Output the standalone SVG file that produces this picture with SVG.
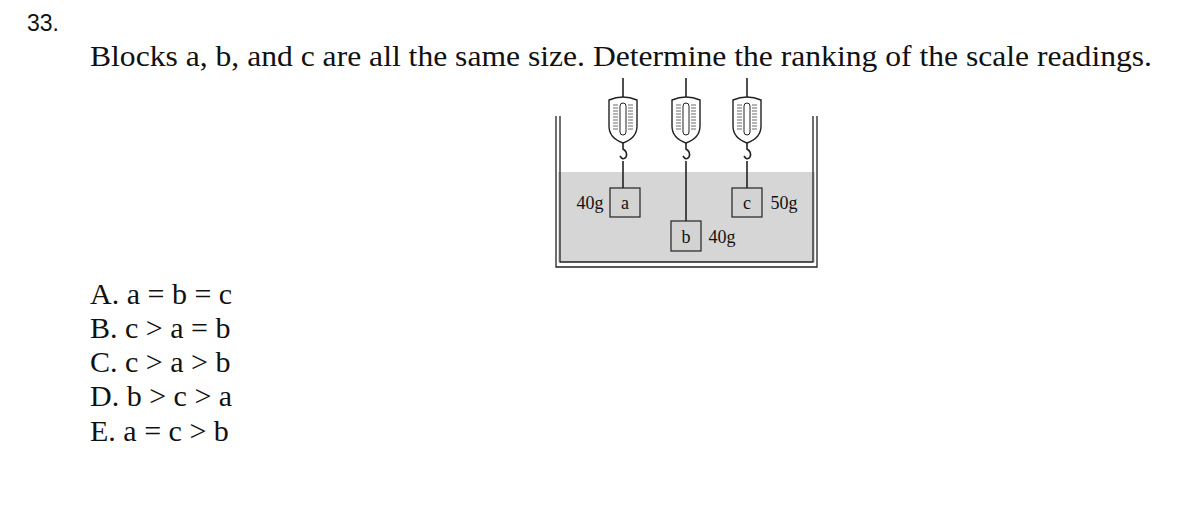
<svg xmlns="http://www.w3.org/2000/svg" width="1193" height="527" viewBox="0 0 1193 527">
<style>
.s{font-family:"Liberation Serif",serif;fill:#111}
.q{font-size:29px}
.o{font-size:30px}
.l{font-size:18px}
.ln{stroke:#222;fill:none;stroke-width:1.6}
.blk{fill:#d3d3d3;stroke:#222;stroke-width:1.2}
.body{fill:#fff;stroke:#222;stroke-width:1.4}
</style>
<defs>
<g id="scale">
<line class="ln" x1="0" y1="0" x2="0" y2="21" stroke-width="2"/>
<path class="body" d="M-14,22 Q0,16 14,22 V48 Q14,60 0,65 Q-14,60 -14,48 Z"/>
<rect x="-3" y="25" width="6" height="32" rx="3" fill="#fff" stroke="#222" stroke-width="1"/>
<path d="M-10,27 H-5 M-10,30 H-5 M-10,33 H-5 M-10,36 H-5 M-10,39 H-5 M-10,42 H-5 M-10,45 H-5 M-10,48 H-5 M-10,51 H-5 M5,27 H10 M5,30 H10 M5,33 H10 M5,36 H10 M5,39 H10 M5,42 H10 M5,45 H10 M5,48 H10 M5,51 H10" stroke="#444" stroke-width="0.8"/>
<path class="ln" d="M0,65 V71 Q5,74 3,79 Q0,83 -3,78"/>
</g>
</defs>
<text x="27" y="31" font-family="Liberation Sans, sans-serif" font-size="23" fill="#111">33.</text>
<text class="s q" x="90" y="66" textLength="1062" lengthAdjust="spacingAndGlyphs">Blocks a, b, and c are all the same size. Determine the ranking of the scale readings.</text>
<g id="container">
<rect x="558" y="172" width="257" height="90" fill="#d6d6d6"/>
<path d="M556,116 V267 H817 V116 M560,116 V262 H813 V116" fill="none" stroke="#222" stroke-width="1.3"/>
</g>
<g id="scale-a"><use href="#scale" x="623" y="78"/></g>
<g id="scale-b"><use href="#scale" x="686" y="78"/></g>
<g id="scale-c"><use href="#scale" x="747" y="78"/></g>
<g id="connectors">
<line class="ln" x1="623" y1="161" x2="623" y2="188" stroke-width="2"/>
<line class="ln" x1="686" y1="161" x2="686" y2="221" stroke-width="2"/>
<line class="ln" x1="747" y1="161" x2="747" y2="188" stroke-width="2"/>
</g>
<g id="block-a"><rect class="blk" x="610" y="188" width="30" height="29"/><text class="s l" x="625" y="209" text-anchor="middle">a</text><text class="s l" x="590" y="209" text-anchor="middle">40g</text></g>
<g id="block-b"><rect class="blk" x="671" y="221" width="30" height="30"/><text class="s l" x="686" y="243" text-anchor="middle">b</text><text class="s l" x="722" y="243" text-anchor="middle">40g</text></g>
<g id="block-c"><rect class="blk" x="732" y="188" width="30" height="29"/><text class="s l" x="747" y="209" text-anchor="middle">c</text><text class="s l" x="784" y="209" text-anchor="middle">50g</text></g>
<g class="s o">
<text x="90" y="304">A. a = b = c</text>
<text x="90" y="338">B. c &gt; a = b</text>
<text x="90" y="372">C. c &gt; a &gt; b</text>
<text x="90" y="406">D. b &gt; c &gt; a</text>
<text x="90" y="441">E. a = c &gt; b</text>
</g>
</svg>
